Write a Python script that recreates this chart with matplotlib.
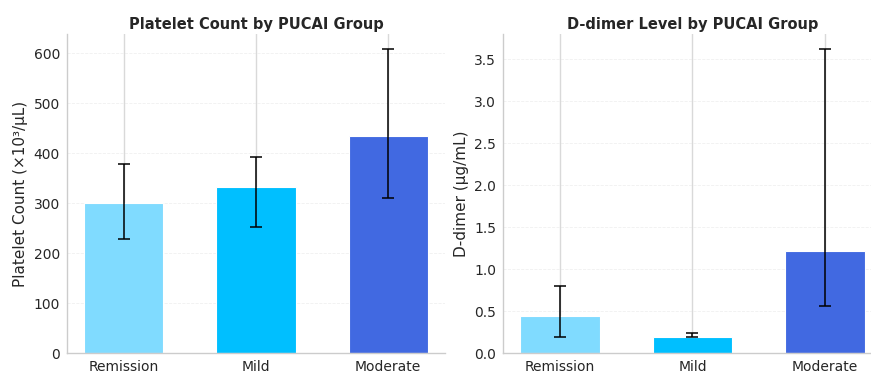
import matplotlib
matplotlib.use("Agg")
import matplotlib.pyplot as plt
import numpy as np

groups = ["Remission", "Mild", "Moderate"]
colors = ["#80DBFF", "#00BFFF", "#4169E1"]

platelet_mean = [300, 333, 434]
platelet_low = [229, 252, 311]
platelet_high = [379, 392, 608]

ddimer_mean = [0.445, 0.19, 1.21]
ddimer_low = [0.19, 0.185, 0.565]
ddimer_high = [0.80, 0.235, 3.62]

plt.rcParams["font.family"] = ["DejaVu Sans"]
plt.rcParams["text.color"] = "#262626"
plt.rcParams["axes.labelcolor"] = "#262626"
plt.rcParams["xtick.color"] = "#262626"
plt.rcParams["ytick.color"] = "#262626"

fig = plt.figure(figsize=(8.71, 3.73), dpi=100)
ax1 = fig.add_axes([0.0769, 0.0536, 0.434, 0.855])
ax2 = fig.add_axes([0.5775, 0.0536, 0.435, 0.855])


def draw(ax, mean, low, high, title, ylabel):
    x = np.arange(len(groups))
    mean = np.array(mean)
    yerr = [mean - np.array(low), np.array(high) - mean]
    ax.set_axisbelow(True)
    ax.bar(x, mean, width=0.6, color=colors, edgecolor="white", linewidth=0.8,
           yerr=yerr, capsize=4.5,
           error_kw=dict(ecolor="black", elinewidth=1.1, capthick=1.1))
    ax.set_xticks(x)
    ax.set_xticklabels(groups)
    ax.set_title(title, fontsize=10.5, fontweight="bold", pad=4)
    ax.set_ylabel(ylabel, fontsize=11)
    ax.tick_params(axis="y", labelsize=10, length=0, pad=5)
    ax.tick_params(axis="x", labelsize=10, length=0, pad=5)
    ax.grid(axis="x", color="#d9d9d9", linewidth=1.0, linestyle="-")
    ax.grid(axis="y", color="#e6e6e6", linewidth=0.6, linestyle="--", alpha=0.6)
    for s in ["top", "right"]:
        ax.spines[s].set_visible(False)
    for s in ["left", "bottom"]:
        ax.spines[s].set_color("#cccccc")
        ax.spines[s].set_linewidth(1.0)


draw(ax1, platelet_mean, platelet_low, platelet_high,
     "Platelet Count by PUCAI Group", "Platelet Count (×10³/μL)")
draw(ax2, ddimer_mean, ddimer_low, ddimer_high,
     "D-dimer Level by PUCAI Group", "D-dimer (μg/mL)")
ax1.set_yticks(np.arange(0, 601, 100))
ax2.set_yticks(np.arange(0, 3.6, 0.5))
ax2.set_yticklabels([f"{v:.1f}" for v in np.arange(0, 3.6, 0.5)])

fig.savefig("out.png", dpi=100)
